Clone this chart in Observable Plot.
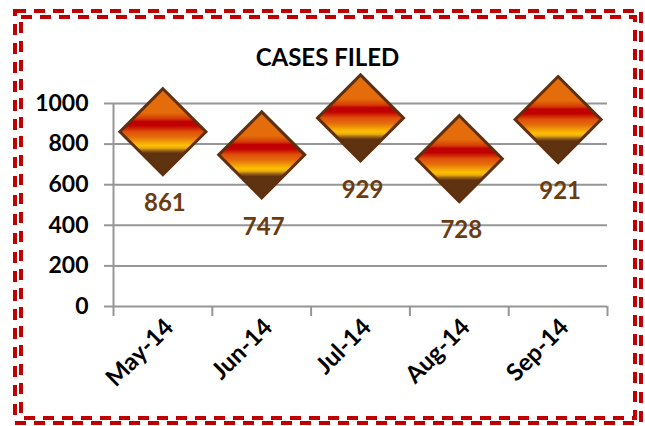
<!DOCTYPE html>
<html>
<head>
<meta charset="utf-8">
<script src="https://cdn.jsdelivr.net/npm/d3@7"></script>
<script src="https://cdn.jsdelivr.net/npm/@observablehq/plot@0.6"></script>
<style>
  html, body { margin: 0; padding: 0; background: #fff; }
  #chart { width: 645px; height: 426px; }
</style>
</head>
<body>
<div id="chart"></div>
<script>
const title = "CASES FILED";
const months = ["May-14", "Jun-14", "Jul-14", "Aug-14", "Sep-14"];
const cases = [861, 747, 929, 728, 921];
const yTicks = [0, 200, 400, 600, 800, 1000];

const data = months.map((m, i) => ({ i, month: m, value: cases[i] }));
const centers = months.map((m, i) => i);
const bounds = [...months.map((m, i) => i - 0.5), months.length - 0.5];

const diamond = {
  draw(ctx, size) {
    const h = Math.sqrt(size / Math.PI);
    ctx.moveTo(0, -h);
    ctx.lineTo(h, 0);
    ctx.lineTo(0, h);
    ctx.lineTo(-h, 0);
    ctx.closePath();
  }
};

const grid = "#969696";

const chart = Plot.plot({
  width: 645,
  height: 426,
  marginLeft: 113,
  marginRight: 38,
  marginTop: 103,
  marginBottom: 120,
  style: { fontFamily: "Lato, 'DejaVu Sans', sans-serif", color: "#000", background: "#fff" },
  x: { type: "linear", domain: [-0.5, months.length - 0.5], label: null },
  y: { domain: [0, 1000], label: null },
  marks: [
    Plot.gridY(yTicks, { stroke: grid, strokeOpacity: 1, strokeWidth: 2 }),
    Plot.ruleX([-0.5], { stroke: grid, strokeWidth: 2 }),
    Plot.axisY(yTicks, { label: null, tickSize: 9, tickPadding: 16, stroke: grid, strokeWidth: 2, fontSize: 23, fontWeight: "bold", tickFormat: d => String(d) }),
    Plot.axisX(bounds, { label: null, tickSize: 10, stroke: grid, strokeWidth: 2, tickFormat: () => "" }),
    Plot.axisX(centers, { label: null, tickSize: 0, tickPadding: 10, rotate: -45, textAnchor: "end", fontSize: 24, fontWeight: "bold", tickFormat: i => months[i] }),
    Plot.dot(data, { x: "i", y: "value", r: 43, symbol: diamond, fill: "url(#diamondGrad)", stroke: "#5f2f0e", strokeWidth: 3 }),
    Plot.text(data, { x: "i", y: "value", text: d => String(d.value), dy: 72, dx: 2, fontSize: 24, fontWeight: "bold", fill: "#6b3c12" }),
    Plot.text([title], { frameAnchor: "top", dy: -55, dx: -33, fontSize: 24, fontWeight: "bold", fill: "#000" })
  ]
});

const svg = d3.select(chart);
const defs = svg.insert("defs", ":first-child");
const g = defs.append("linearGradient").attr("id", "diamondGrad")
  .attr("x1", 0).attr("y1", 0).attr("x2", 0).attr("y2", 1);
[
  [0, "#e46c0a"], [0.28, "#e46c0a"], [0.35, "#d53a05"], [0.38, "#c00000"], [0.43, "#c00000"],
  [0.50, "#e0500a"], [0.56, "#e46c0a"], [0.62, "#f2a008"], [0.66, "#ffc000"], [0.69, "#e8ab10"],
  [0.72, "#9a6418"], [0.75, "#5f3210"], [1, "#5f3210"]
].forEach(([o, c]) => g.append("stop").attr("offset", o).attr("stop-color", c));

// double dashed border
const border = svg.append("g").attr("fill", "none").attr("stroke", "#c00000")
  .attr("stroke-width", 4).attr("stroke-dasharray", "11 8");
border.append("rect").attr("x", 15).attr("y", 11).attr("width", 626).attr("height", 412);
border.append("rect").attr("x", 21).attr("y", 17).attr("width", 614).attr("height", 401);

document.getElementById("chart").appendChild(chart);
</script>
</body>
</html>
